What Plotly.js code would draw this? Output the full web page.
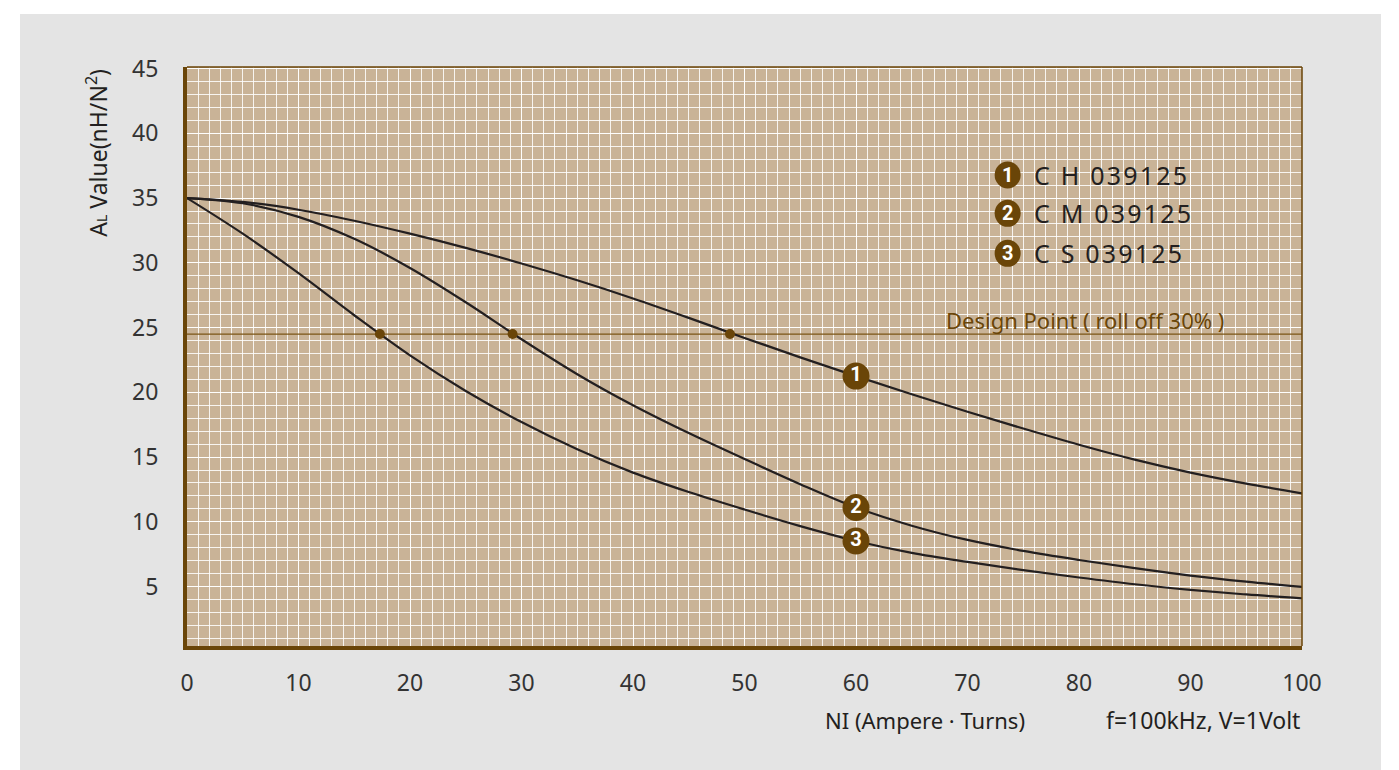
<!DOCTYPE html>
<html>
<head>
<meta charset="utf-8">
<script src="https://cdn.plot.ly/plotly-3.0.1.min.js"></script>
<style>
  html, body { margin: 0; padding: 0; background: #ffffff; }
  #bg { position: absolute; left: 20px; top: 14px; width: 1361px; height: 756px; background: #e4e4e4; }
  #chart { position: absolute; left: 0; top: 0; width: 1399px; height: 770px; }
</style>
</head>
<body>
<div id="bg"></div>
<div id="chart"></div>
<script>
// ---- data ----
const NI = [0, 5, 10, 15, 20, 25, 30, 35, 40, 45, 50, 55, 60, 65, 70, 75, 80, 85, 90, 95, 100];
const CH039125 = [35.0, 34.7, 34.1, 33.25, 32.25, 31.15, 29.95, 28.65, 27.25, 25.75, 24.2, 22.7, 21.25, 19.85, 18.5, 17.2, 15.95, 14.8, 13.8, 12.95, 12.2];
const CM039125 = [35.0, 34.6, 33.55, 31.85, 29.6, 26.95, 24.1, 21.4, 19.0, 16.85, 14.85, 12.9, 11.1, 9.7, 8.6, 7.75, 7.05, 6.42, 5.85, 5.38, 4.97];
const CS039125 = [35.0, 32.25, 29.2, 25.95, 22.85, 20.1, 17.7, 15.6, 13.8, 12.3, 10.95, 9.67, 8.52, 7.6, 6.9, 6.27, 5.7, 5.18, 4.75, 4.39, 4.09];
const seriesNames = ['C H 039125', 'C M 039125', 'C S 039125'];
const badgeLabels = ['1', '2', '3'];
const designNI = [48.7, 29.2, 17.3];
const designAL = 24.5;
const badgeNI = 60;
const xTickVals = [0, 10, 20, 30, 40, 50, 60, 70, 80, 90, 100];
const yTickVals = [5, 10, 15, 20, 25, 30, 35, 40, 45];
const designText = 'Design Point ( roll off 30% )';
const xTitle = 'NI (Ampere · Turns)';
const condText = 'f=100kHz, V=1Volt';
const yTitle = 'A<span style="font-size:14px">L</span> Value(nH/N<sup>2</sup>)';

// ---- styles ----
const BROWN = '#6a4508';
const CURVE = '#231f20';
const FONT = 'Noto Sans, Open Sans, sans-serif';
const BADGEFONT = 'Roboto, Noto Sans, sans-serif';
const series = [CH039125, CM039125, CS039125];

const traces = [];
// design (roll-off) reference line, drawn across the axis extent
traces.push({
  type: 'scatter', mode: 'lines', x: [NI[0], NI[NI.length - 1]], y: [designAL, designAL],
  line: { color: '#7a5514', width: 1.3 }, showlegend: false, hoverinfo: 'skip'
});

series.forEach((ys, i) => traces.push({
  type: 'scatter', mode: 'lines', x: NI, y: ys, name: seriesNames[i],
  line: { color: CURVE, width: 2.2, shape: 'spline', smoothing: 1 },
  hoverinfo: 'x+y', showlegend: false
}));

traces.push({
  type: 'scatter', mode: 'markers', x: designNI, y: designNI.map(() => designAL),
  marker: { color: BROWN, size: 10 }, showlegend: false, hoverinfo: 'x+y'
});

const idx = NI.indexOf(badgeNI);
traces.push({
  type: 'scatter', mode: 'markers+text',
  x: series.map(() => badgeNI), y: series.map(s => s[idx]),
  marker: { color: BROWN, size: 27, line: { width: 0 } },
  text: badgeLabels.map(t => '<b>' + t + '</b>'),
  textposition: 'middle center',
  textfont: { color: '#ffffff', size: 20, family: BADGEFONT },
  showlegend: false, hoverinfo: 'skip'
});

// legend (layout decoration) positions
const legX = 73.6;
const legY = [36.78, 33.82, 30.73];

const shapes = [
  { type: 'line', xref: 'paper', yref: 'paper', x0: 0, x1: 1, y0: 1, y1: 1,
    line: { color: BROWN, width: 1.5 }, layer: 'above' },
  { type: 'line', xref: 'paper', yref: 'paper', x0: 1, x1: 1, y0: 0, y1: 1,
    line: { color: BROWN, width: 1.5 }, layer: 'above' }
];
const annotations = [];
legY.forEach((yy, i) => {
  shapes.push({
    type: 'circle', xref: 'x', yref: 'y', xsizemode: 'pixel', ysizemode: 'pixel',
    xanchor: legX, yanchor: yy, x0: -13, x1: 13, y0: -13.5, y1: 13.5,
    fillcolor: BROWN, line: { width: 0 }, layer: 'above'
  });
  annotations.push({
    x: legX, y: yy, xref: 'x', yref: 'y', showarrow: false,
    text: '<b>' + badgeLabels[i] + '</b>',
    font: { color: '#ffffff', size: 20, family: BADGEFONT },
    xanchor: 'center', yanchor: 'middle'
  });
  annotations.push({
    x: legX, y: yy, xref: 'x', yref: 'y', showarrow: false, xshift: 24,
    text: '<span style="letter-spacing:2.2px">' + seriesNames[i] + '</span>',
    font: { color: CURVE, size: 25, family: FONT },
    xanchor: 'left', yanchor: 'middle'
  });
});

annotations.push({
  x: 93.2, y: designAL, xref: 'x', yref: 'y', showarrow: false,
  text: designText, font: { color: '#6a4508', size: 22, family: FONT },
  xanchor: 'right', yanchor: 'bottom', yshift: -3
});
annotations.push({
  x: -0.0807, y: 0.852, xref: 'paper', yref: 'paper', showarrow: false,
  text: yTitle, textangle: -90, font: { color: CURVE, size: 23, family: FONT },
  xanchor: 'center', yanchor: 'middle'
});
annotations.push({
  x: 0.662, y: -0.128, xref: 'paper', yref: 'paper', showarrow: false,
  text: xTitle, font: { color: CURVE, size: 22, family: FONT },
  xanchor: 'center', yanchor: 'middle'
});
annotations.push({
  x: 1.0, y: -0.128, xref: 'paper', yref: 'paper', showarrow: false,
  text: condText, font: { color: CURVE, size: 23, family: FONT },
  xanchor: 'right', yanchor: 'middle'
});

const GRID = 'rgba(255,255,255,0.85)';
const layout = {
  width: 1399, height: 770,
  margin: { l: 187, r: 97, t: 67, b: 124, pad: 0 },
  paper_bgcolor: 'rgba(0,0,0,0)',
  plot_bgcolor: '#c9b397',
  showlegend: false,
  font: { family: FONT, color: '#333333' },
  xaxis: {
    range: [0, 100], tickvals: xTickVals, ticks: '',
    showgrid: true, gridcolor: GRID, gridwidth: 1,
    minor: { dtick: 1, tick0: 0, showgrid: true, gridcolor: GRID, gridwidth: 1 },
    zeroline: false, showline: true, linecolor: BROWN, linewidth: 3.5,
    tickfont: { size: 23, color: '#333333', family: FONT },
    ticklabelstandoff: 14, fixedrange: true
  },
  yaxis: {
    range: [0.41, 45.12], tickvals: yTickVals, ticks: '',
    showgrid: true, gridcolor: GRID, gridwidth: 1,
    minor: { dtick: 1, tick0: 0, showgrid: true, gridcolor: GRID, gridwidth: 1 },
    zeroline: false, showline: true, linecolor: BROWN, linewidth: 4,
    tickfont: { size: 23, color: '#333333', family: FONT },
    ticklabelstandoff: 20, fixedrange: true
  },
  shapes: shapes,
  annotations: annotations
};

Plotly.newPlot('chart', traces, layout, { displayModeBar: false, staticPlot: true });
</script>
</body>
</html>
